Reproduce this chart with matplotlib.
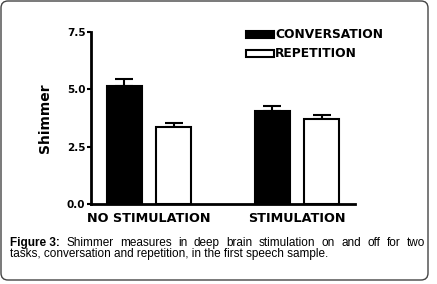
import numpy as np
import matplotlib.pyplot as plt
from matplotlib.patches import FancyBboxPatch
from matplotlib.transforms import IdentityTransform

plt.rcParams['font.family'] = ['Liberation Sans', 'DejaVu Sans']

groups = ['NO STIMULATION', 'STIMULATION']
conversation = [5.15, 4.07]
conversation_err = [0.30, 0.21]
repetition = [3.37, 3.70]
repetition_err = [0.18, 0.20]
yticks = [0.0, 2.5, 5.0, 7.5]

fig = plt.figure(figsize=(4.37, 2.84), dpi=100)

# rounded frame around the whole figure
frame = FancyBboxPatch((1, 4), 427, 279, boxstyle="round,pad=0,rounding_size=7",
                       transform=IdentityTransform(), fill=False,
                       edgecolor='#444444', lw=1.0)
fig.patches.append(frame)

ax = fig.add_axes([91 / 437, 1 - 204 / 284, 264 / 437, 172 / 284])
x = np.arange(len(groups))
w = 0.236
off = 0.166

ax.bar(x - off, conversation, w, color='black', edgecolor='black', lw=1.5,
       label='CONVERSATION', zorder=2)
ax.bar(x + off, repetition, w, color='white', edgecolor='black', lw=1.5,
       label='REPETITION', zorder=2)
ax.errorbar(x - off, conversation, yerr=[np.zeros(2), conversation_err], fmt='none',
            ecolor='black', elinewidth=1.5, capsize=6.5, capthick=1.5, zorder=1)
ax.errorbar(x + off, repetition, yerr=[np.zeros(2), repetition_err], fmt='none',
            ecolor='black', elinewidth=1.5, capsize=6.5, capthick=1.5, zorder=1)

chart_font = 'DejaVu Sans'
ax.set_xlim(-0.392, 1.392)
ax.set_ylim(0, 7.5)
ax.set_yticks(yticks)
ax.set_yticklabels(['%.1f' % v for v in yticks], fontsize=7.5, fontweight='bold',
                   family=chart_font)
ax.set_xticks(x)
ax.set_xticklabels(groups, fontsize=9.2, fontweight='bold', family=chart_font)
ax.tick_params(axis='x', length=0, pad=6)
ax.tick_params(axis='y', length=3, width=1.5, pad=1)
for s in ['top', 'right']:
    ax.spines[s].set_visible(False)
for s in ['left', 'bottom']:
    ax.spines[s].set_linewidth(2)
ax.set_ylabel('Shimmer', fontsize=10, fontweight='bold', labelpad=11,
              family=chart_font)

leg = ax.legend(loc='upper left', bbox_to_anchor=(0.545, 1.085), frameon=False,
                prop={'family': chart_font, 'weight': 'bold', 'size': 8.8},
                handlelength=2.3, handleheight=0.5,
                handletextpad=0.1, labelspacing=0.5)

# caption, first line justified
line1 = ['Figure 3:'] + 'Shimmer measures in deep brain stimulation on and off for two'.split(' ')
line2 = 'tasks, conversation and repetition, in the first speech sample.'
fs = 8.5
y1 = 1 - 243 / 284
y2 = 1 - 254 / 284
fig.canvas.draw()
r = fig.canvas.get_renderer()
words = []
for i, wd in enumerate(line1):
    wt = 'bold' if i == 0 else 'normal'
    words.append(fig.text(0, y1, wd, fontsize=fs, fontweight=wt, va='center'))
widths = [t.get_window_extent(r).width for t in words]
x0, x1 = 10, 425
gap = (x1 - x0 - sum(widths)) / (len(words) - 1)
pos = x0
for t, wd in zip(words, widths):
    t.set_x(pos / 437)
    pos += wd + gap
fig.text(x0 / 437, y2, line2, fontsize=fs, va='center')

fig.savefig('out.png', dpi=100)
